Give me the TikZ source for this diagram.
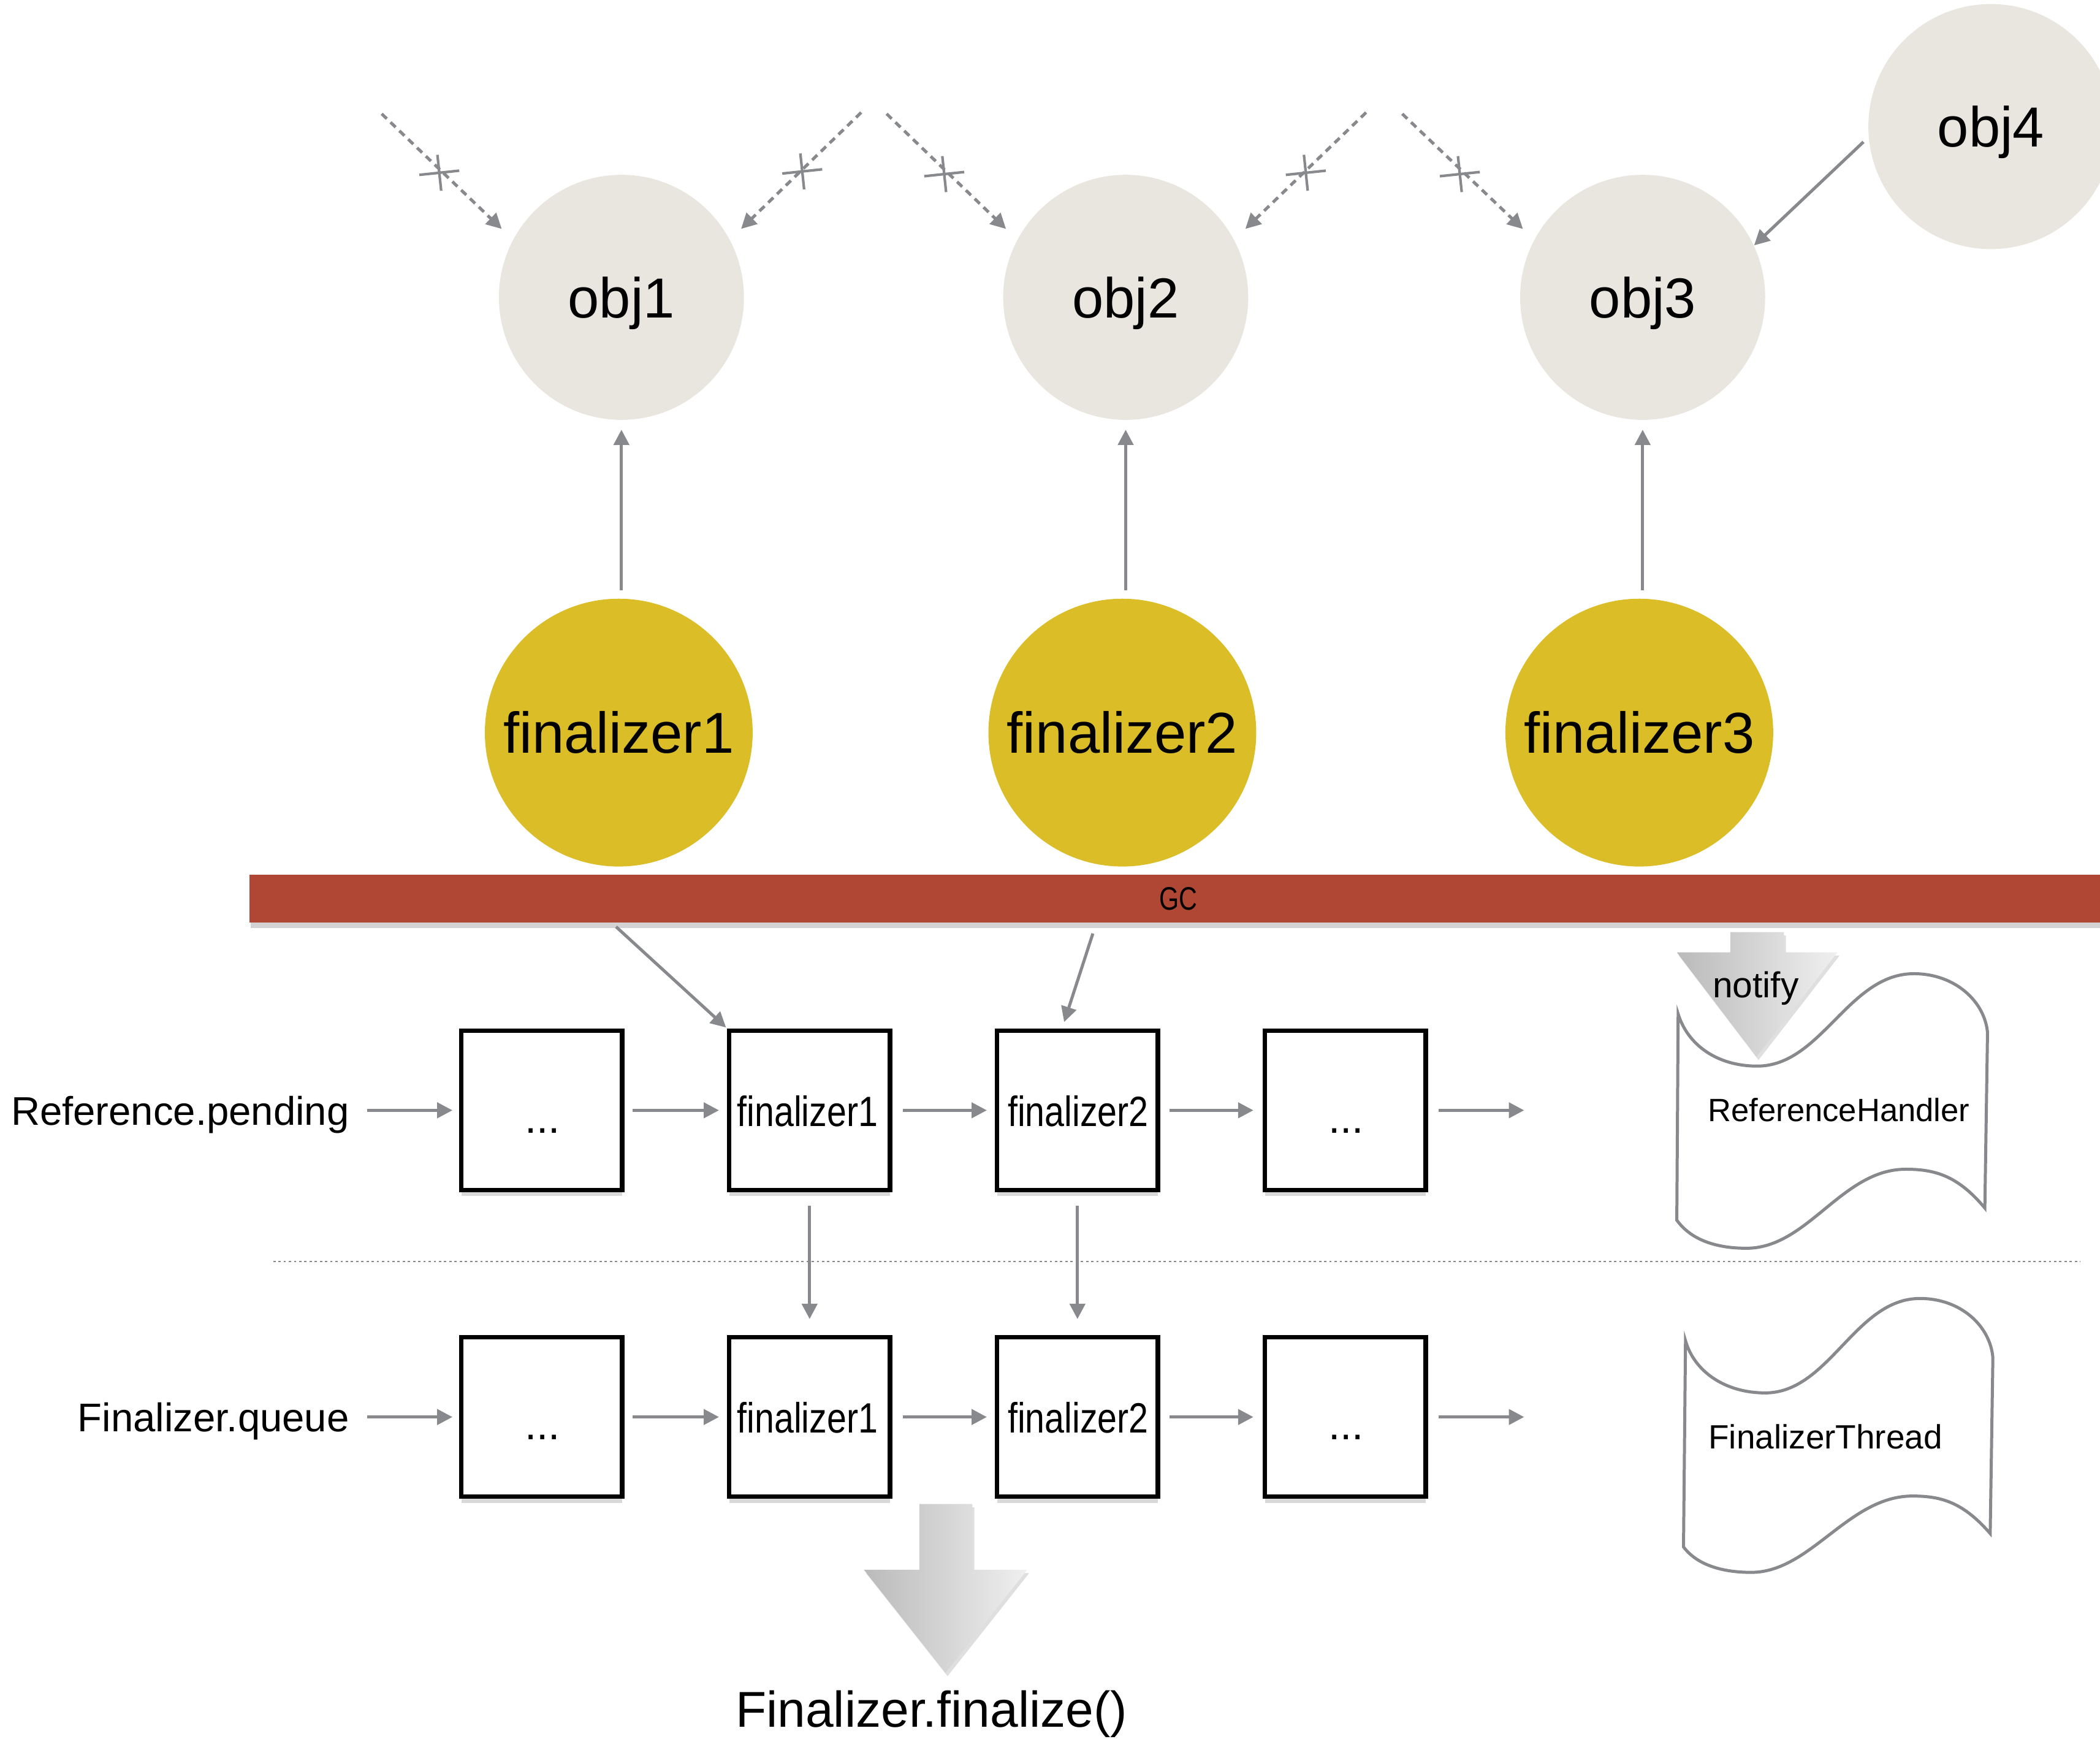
\documentclass[tikz,border=0pt]{standalone}
\usepackage{fontspec}
\setmainfont{Liberation Sans}
\usetikzlibrary{arrows.meta,shadows}

\definecolor{objfill}{HTML}{E8E6DF}
\definecolor{finfill}{HTML}{DBBD27}
\definecolor{gcred}{HTML}{B04634}
\definecolor{linkgray}{HTML}{87898C}

\tikzset{
  cutmark/.pic={\draw[linkgray, line width=1.1pt, rotate=6] (0,-13.5) -- (0,13.5) (-15,0) -- (15,0);}
}

\begin{document}
\begin{tikzpicture}[x=0.02cm, y=-0.02cm,
  objnode/.style={circle, fill=objfill, minimum size=3.66cm, inner sep=0pt, text depth=0pt, font=\fontsize{24}{28}\selectfont},
  finnode/.style={circle, fill=finfill, minimum size=4cm, inner sep=0pt, font=\fontsize{24.5}{28}\selectfont},
  cell/.style={draw=black, line width=1.9pt, fill=white, minimum width=2.4cm, minimum height=2.38cm, inner sep=0pt,
     drop shadow={opacity=0.3, shadow xshift=0pt, shadow yshift=-0.09cm}},
  celltext/.style={inner sep=0pt, anchor=base, font=\fontsize{18}{20}\selectfont},
  rowlabel/.style={inner sep=0pt, anchor=base east, font=\fontsize{17}{20}\selectfont},
  plaintext/.style={inner sep=0pt, anchor=base},
  link/.style={draw=linkgray, line width=1.3pt, -{Triangle[length=6.5pt, width=6.5pt]}},
  cutlink/.style={link, dash pattern=on 3pt off 2.2pt},
  flag/.style={draw=linkgray, line width=1.3pt, fill=white},
  bigarrow/.style={left color=black!27, right color=black!6, draw=none,
     drop shadow={opacity=0.25, shadow xshift=0.03cm, shadow yshift=-0.05cm}},
]
\useasboundingbox (0,0) rectangle (1568,1298);

% objects on the heap
\node[objnode] (o1) at (464,222) {obj1};
\node[objnode] (o2) at (840.5,222) {obj2};
\node[objnode] (o3) at (1226.5,222) {obj3};
\node[objnode] (o4) at (1486.5,94.5) {obj4};

% finalizer references
\node[finnode] (f1) at (462,547) {finalizer1};
\node[finnode] (f2) at (838,547) {finalizer2};
\node[finnode] (f3) at (1224,547) {finalizer3};

\foreach \o/\f in {o1/f1,o2/f2,o3/f3}
  \draw[link, shorten <=0.12cm, shorten >=0.14cm] (\o.south |- \f.north) -- (\o.south);

% dropped strong references
\coordinate (c1) at (285,85);
\coordinate (c2) at (643,84);
\coordinate (c3) at (662,85);
\coordinate (c4) at (1020,84);
\coordinate (c5) at (1047,85);
\draw[cutlink, shorten >=0.23cm] (c1) -- (o1.152);
\draw[cutlink, shorten >=0.23cm] (c2) -- (o1.28);
\draw[cutlink, shorten >=0.23cm] (c3) -- (o2.152);
\draw[cutlink, shorten >=0.23cm] (c4) -- (o2.28);
\draw[cutlink, shorten >=0.23cm] (c5) -- (o3.152);
\pic at (328,129) {cutmark};
\pic at (599,128) {cutmark};
\pic at (705,130) {cutmark};
\pic at (975,129) {cutmark};
\pic at (1090,130) {cutmark};

% obj4 still reaches obj3
\draw[link, shorten <=0.1cm] (o4.185) -- (o3.25);

% the collector
\node[fill=gcred, minimum width=27.76cm, minimum height=0.72cm, inner sep=0pt,
      drop shadow={opacity=0.35, shadow xshift=0.02cm, shadow yshift=-0.08cm}]
      (gc) at (880,671) {\fontsize{13.8}{16}\selectfont\scalebox{0.78}[1]{GC}};

% pending list and finalizer queue
\foreach \i/\x in {1/404.5,2/604.5,3/804.5,4/1004.5} {
  \node[cell] (r\i) at (\x,829) {};
  \node[cell] (q\i) at (\x,1058) {};
}
\node[celltext] (r1t) at (405,846) {...};
\node[celltext] (r2t) at (603,841) {\scalebox{0.83}[1]{finalizer1}};
\node[celltext] (r3t) at (805,841) {\scalebox{0.83}[1]{finalizer2}};
\node[celltext] (r4t) at (1005,846) {...};
\node[celltext] (q1t) at (405,1075) {...};
\node[celltext] (q2t) at (603,1070) {\scalebox{0.83}[1]{finalizer1}};
\node[celltext] (q3t) at (805,1070) {\scalebox{0.83}[1]{finalizer2}};
\node[celltext] (q4t) at (1005,1075) {...};

\node[rowlabel] (refp) at (261,840) {Reference.pending};
\node[rowlabel] (finq) at (261,1069) {Finalizer.queue};

\coordinate (rEnd) at (1138,829);
\coordinate (qEnd) at (1138,1058);
\foreach \row/\lab/\fin in {r/refp/rEnd, q/finq/qEnd} {
  \draw[link, shorten <=0.26cm, shorten >=0.1cm] (\lab.east |- \row1.west) -- (\row1.west);
  \draw[link, shorten <=0.12cm, shorten >=0.12cm] (\row1.east) -- (\row2.west);
  \draw[link, shorten <=0.16cm, shorten >=0.12cm] (\row2.east) -- (\row3.west);
  \draw[link, shorten <=0.14cm, shorten >=0.14cm] (\row3.east) -- (\row4.west);
  \draw[link, shorten <=0.16cm] (\row4.east) -- (\fin);
}

\draw[link, shorten <=0.2cm, shorten >=0.24cm] (r2.south) -- (q2.north);
\draw[link, shorten <=0.2cm, shorten >=0.24cm] (r3.south) -- (q3.north);

% enqueued by the collector
\coordinate (gA) at (460,692);
\coordinate (gB) at (816,697);
\draw[link, shorten >=0.02cm] (gA) -- (r2.north west);
\draw[link, shorten >=0.1cm] (gB) -- ([xshift=-0.23cm]r3.north);

% separator
\coordinate (sepL) at (204,942);
\coordinate (sepR) at (1553,942);
\draw[linkgray, line width=0.6pt, dash pattern=on 1pt off 1.2pt] (sepL) -- (sepR);

% thread flags
\draw[flag] (1253,757) .. controls (1260,780) and (1282,796) .. (1312,796)
  .. controls (1360,796) and (1380,727) .. (1429,727)
  .. controls (1460,727) and (1482,748) .. (1484,771)
  -- (1482,902)
  .. controls (1462,878) and (1445,873) .. (1423,873)
  .. controls (1375,873) and (1350,932) .. (1304,932)
  .. controls (1280,932) and (1262,925) .. (1252,911) -- cycle;
\draw[flag] (1258.5,1001) .. controls (1265,1024) and (1288,1040) .. (1318,1040)
  .. controls (1366,1040) and (1385,969.5) .. (1433.6,969.5)
  .. controls (1464,969.5) and (1486,990) .. (1488,1013.7)
  -- (1486,1145)
  .. controls (1466,1122) and (1450,1117) .. (1428,1117)
  .. controls (1380,1117) and (1352,1174) .. (1307.6,1174)
  .. controls (1283,1174) and (1266,1167) .. (1257,1155) -- cycle;
\node[plaintext, font=\fontsize{13.7}{16}\selectfont] (rh) at (1373,837.5) {ReferenceHandler};
\node[plaintext, font=\fontsize{14.3}{16}\selectfont] (ft) at (1363,1081.5) {FinalizerThread};

% notify arrow
\path[bigarrow] (1292,696) -- (1332,696) -- (1332,711) -- (1372,711) -- (1311.5,789)
  -- (1252,711) -- (1292,711) -- cycle;
\node[plaintext, font=\fontsize{15.3}{18}\selectfont] (notify) at (1311,745) {notify};

% finalize arrow
\path[bigarrow] (686.5,1123) -- (726,1123) -- (726,1172) -- (767,1172) -- (706,1249)
  -- (645,1172) -- (686.5,1172) -- cycle;
\node[plaintext, font=\fontsize{21.4}{24}\selectfont] (fin) at (695.5,1289.5) {Finalizer.finalize()};

\end{tikzpicture}
\end{document}
